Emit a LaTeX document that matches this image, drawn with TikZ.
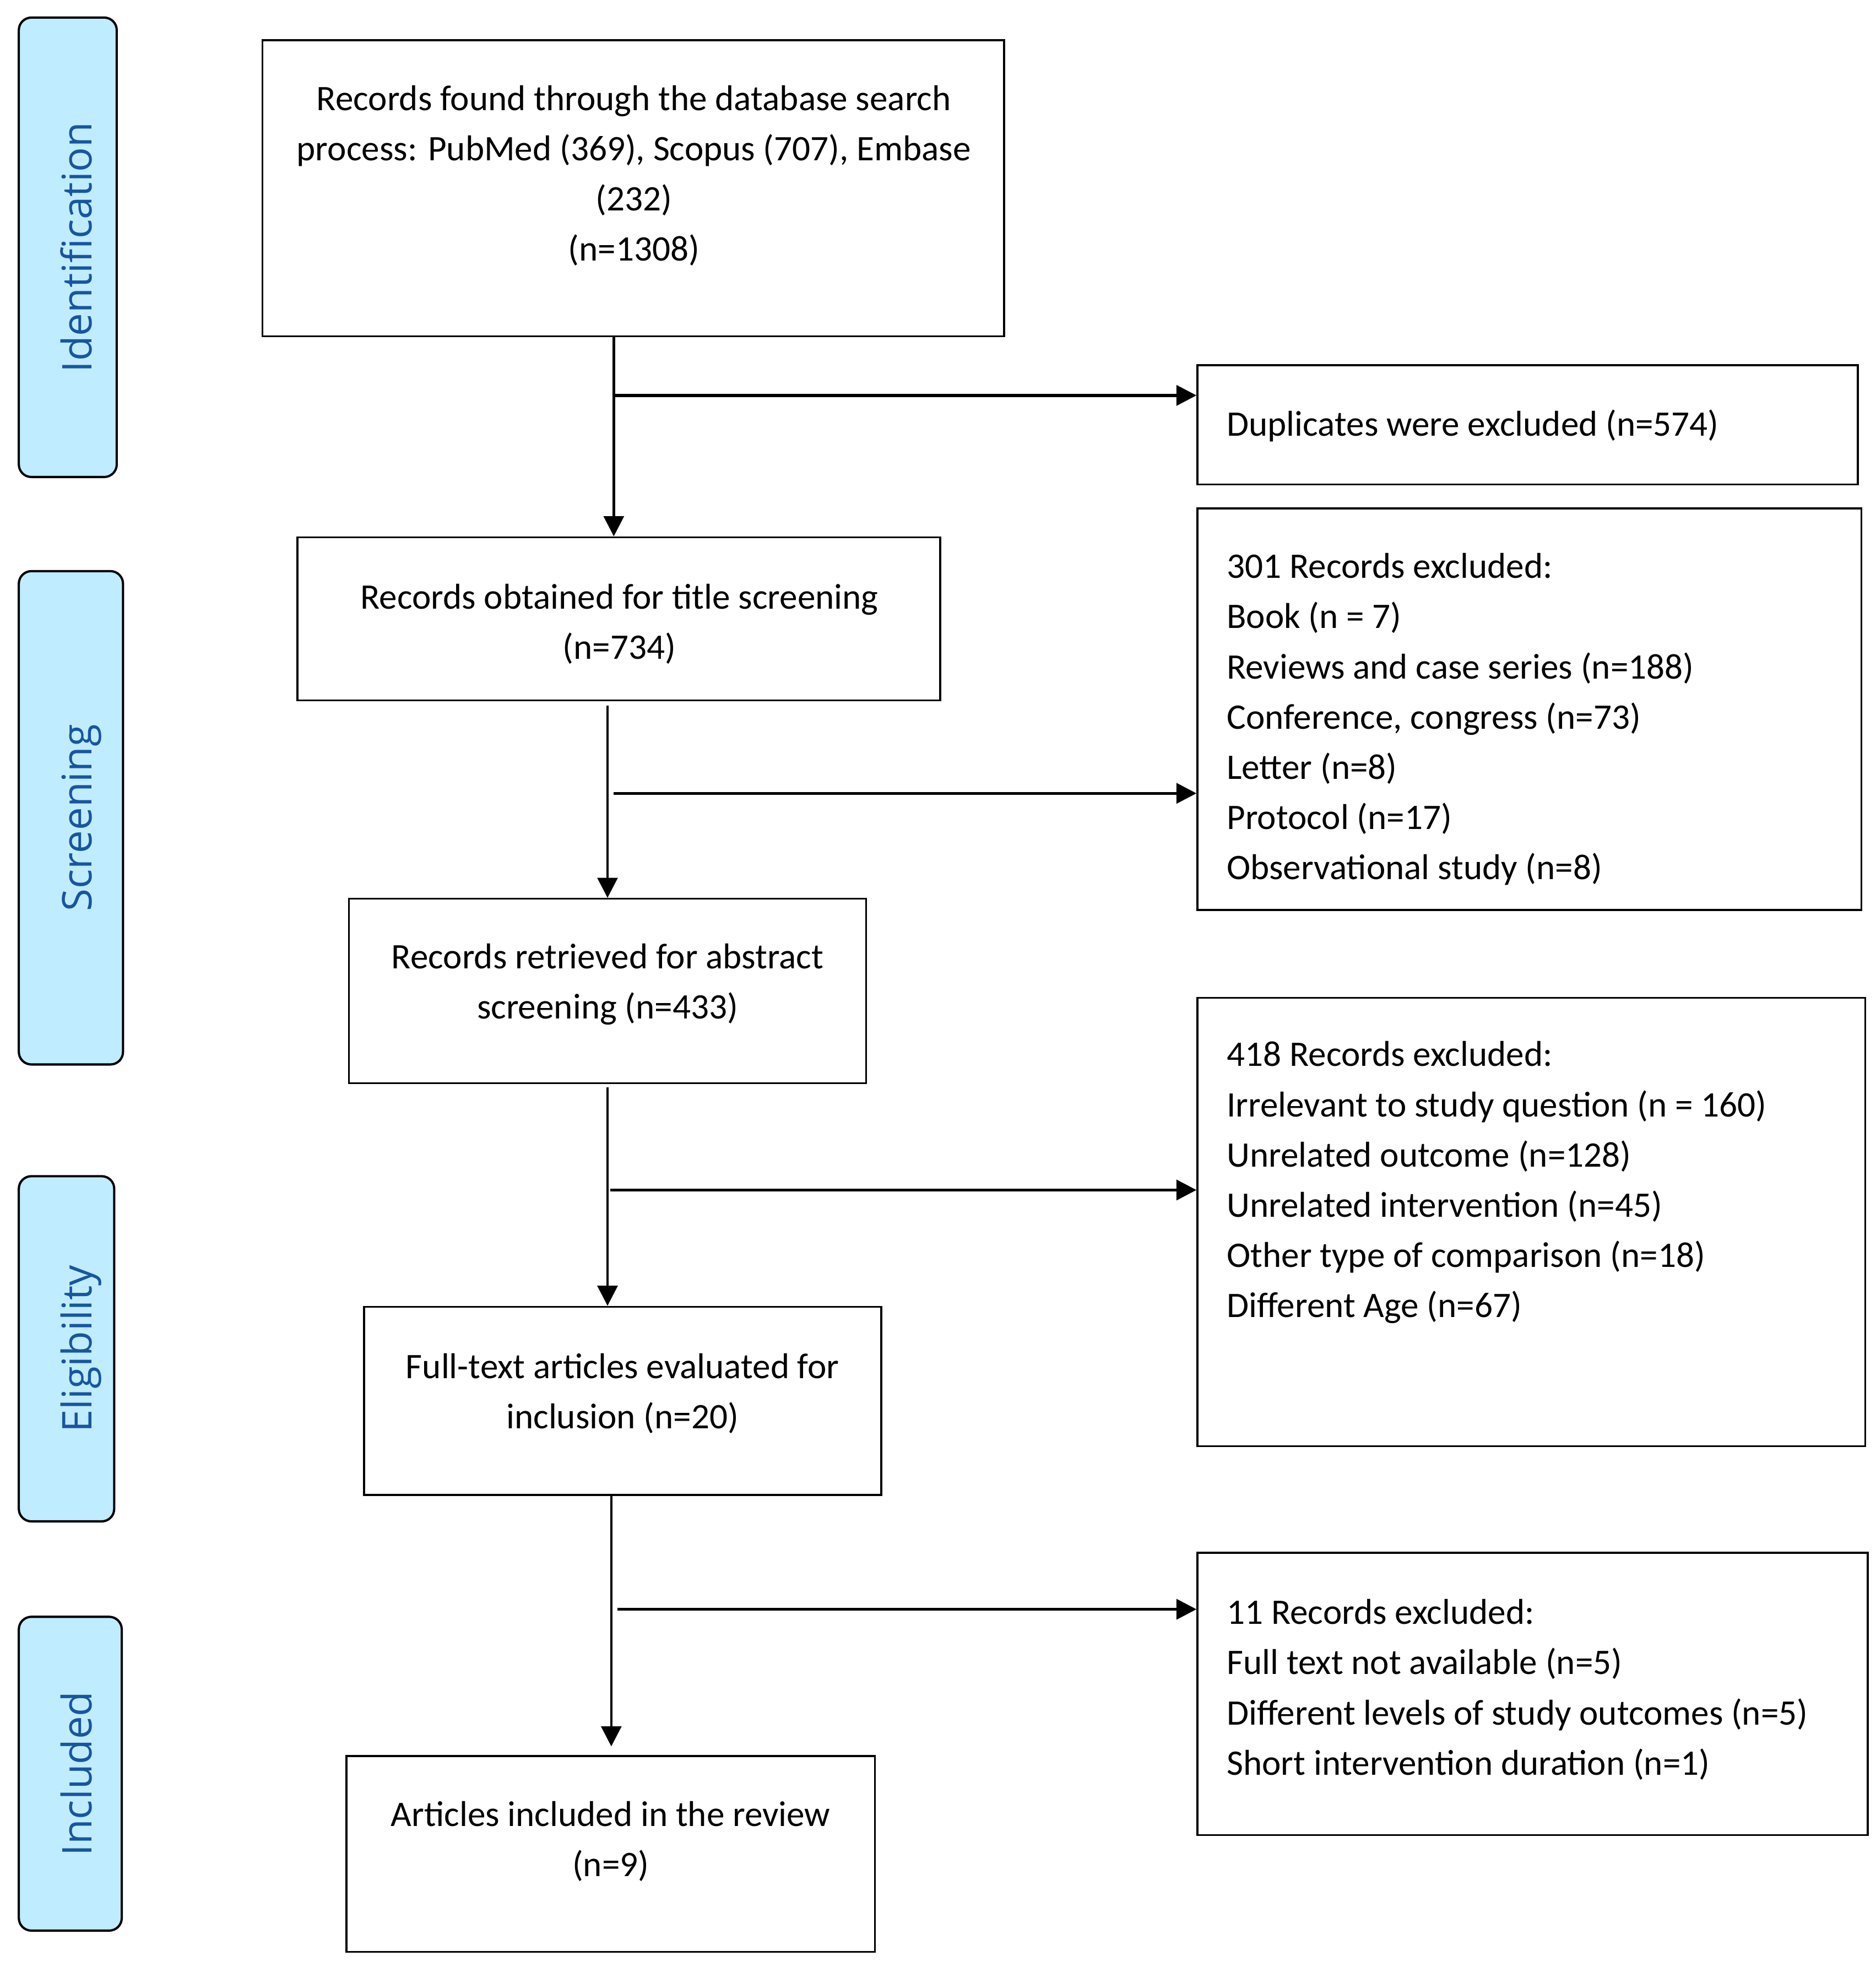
\documentclass[tikz,border=0pt]{standalone}
\usepackage{fontspec}
\setmainfont{Carlito}
\newfontfamily\phasefont{Open Sans}
\usetikzlibrary{arrows.meta}
\definecolor{phasefill}{HTML}{C0ECFF}
\definecolor{phasetext}{HTML}{1756A0}
\begin{document}
\begin{tikzpicture}[x=0.5pt,y=-0.5pt,
  box/.style={draw=black, line width=0.75pt, inner sep=0pt, fill=white},
  phase/.style={draw=black, line width=0.9pt, fill=phasefill, rounded corners=5pt, inner sep=0pt},
  phaselabel/.style={rotate=90, inner sep=0pt, text=phasetext, font=\phasefont\fontsize{16.3pt}{19pt}\selectfont, text height=12pt, text depth=4pt},
  txt/.style={inner sep=0pt, align=center, font=\fontsize{14.3pt}{20pt}\selectfont},
  ltxt/.style={inner sep=0pt, align=left, anchor=west, font=\fontsize{14.3pt}{20pt}\selectfont},
  flow/.style={line width=1pt, -{Triangle[length=8pt,width=8pt]}},
  branch/.style={line width=1.2pt, -{Triangle[length=8pt,width=8pt]}}
]
\useasboundingbox (0,0) rectangle (1494.5,1567);

% phase labels
\node[phase, minimum width=39pt, minimum height=183pt] (p1) at (54,197) {};
\node[phase, minimum width=41.5pt, minimum height=196.5pt] (p2) at (56.5,651.5) {};
\node[phase, minimum width=38pt, minimum height=137.5pt] (p3) at (53,1074.5) {};
\node[phase, minimum width=41pt, minimum height=125pt] (p4) at (56,1413) {};
\node[phaselabel] (pl1) at (65,197) {Identification};
\node[phaselabel] (pl2) at (65,651.5) {Screening};
\node[phaselabel] (pl3) at (65,1074.5) {Eligibility};
\node[phaselabel] (pl4) at (65,1413) {Included};

% main boxes
\node[box, minimum width=295.5pt, minimum height=118pt] (b1) at (504.5,150) {};
\node[box, minimum width=256pt, minimum height=65pt] (b2) at (493,493) {};
\node[box, minimum width=206pt, minimum height=73.5pt] (b3) at (484,789.5) {};
\node[box, minimum width=206pt, minimum height=75pt] (b4) at (496,1116) {};
\node[box, minimum width=210.5pt, minimum height=78pt] (b5) at (486.5,1477) {};

\node[txt] (t1) at (505,140) {Records found through the database search\\process: PubMed (369), Scopus (707), Embase\\(232)\\(n=1308)};
\node[txt] (t2) at (493.5,497) {Records obtained for title screening\\(n=734)};
\node[txt] (t3) at (484,784) {Records retrieved for abstract\\screening (n=433)};
\node[txt] (t4) at (496,1110) {Full-text articles evaluated for\\inclusion (n=20)};
\node[txt] (t5) at (486.5,1467) {Articles included in the review\\(n=9)};

% right boxes
\node[box, minimum width=263pt, minimum height=47.5pt] (r1) at (1217,338.5) {};
\node[box, minimum width=264.5pt, minimum height=160pt] (r2) at (1218.5,565) {};
\node[box, minimum width=266pt, minimum height=178.5pt] (r3) at (1220,973.5) {};
\node[box, minimum width=267pt, minimum height=112.5pt] (r4) at (1221,1349.5) {};

\node[ltxt] (rt1) at (977,339) {Duplicates were excluded (n=574)};
\node[ltxt] (rt2) at (977,573) {301 Records excluded:\\Book (n = 7)\\Reviews and case series (n=188)\\Conference, congress (n=73)\\Letter (n=8)\\Protocol (n=17)\\Observational study (n=8)};
\node[ltxt] (rt3) at (977,942) {418 Records excluded:\\Irrelevant to study question (n = 160)\\Unrelated outcome (n=128)\\Unrelated intervention (n=45)\\Other type of comparison (n=18)\\Different Age (n=67)};
\node[ltxt] (rt4) at (977,1346) {11 Records excluded:\\Full text not available (n=5)\\Different levels of study outcomes (n=5)\\Short intervention duration (n=1)};

% connector coordinates
\coordinate (v1) at (489,268);
\coordinate (v2) at (484,562);
\coordinate (v3) at (484,866);
\coordinate (v4) at (487,1191);
\coordinate (h1) at (489,315);
\coordinate (h2) at (489,632);
\coordinate (h3) at (486,948);
\coordinate (h4) at (492,1282);

% vertical flow
\draw[flow] (v1) -- (v1 |- b2.north);
\draw[flow] (v2) -- (v2 |- b3.north);
\draw[flow] (v3) -- (v3 |- b4.north);
\draw[flow, shorten >=3.5pt] (v4) -- (v4 |- b5.north);

% branches
\draw[branch] (h1) -- (h1 -| r1.west);
\draw[branch] (h2) -- (h2 -| r2.west);
\draw[branch] (h3) -- (h3 -| r3.west);
\draw[branch] (h4) -- (h4 -| r4.west);
\end{tikzpicture}
\end{document}
